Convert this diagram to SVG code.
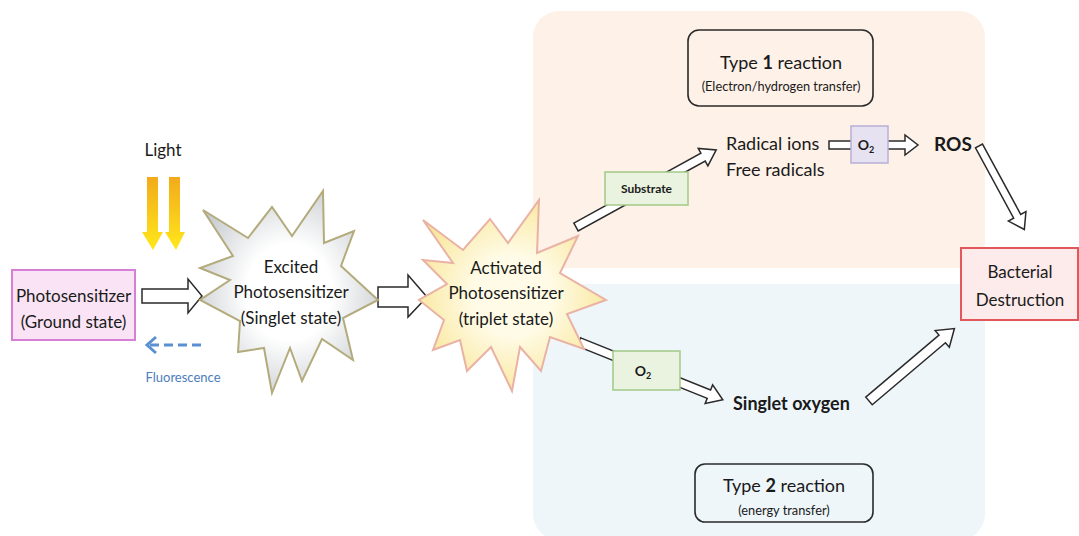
<svg xmlns="http://www.w3.org/2000/svg" width="1079" height="536" viewBox="0 0 1079 536">
  <style>
    text { font-family: Lato, "Liberation Sans", sans-serif; fill: #1a1a1a; }
    .lbl { font-size: 17px; text-anchor: middle; }
    .big { font-size: 18px; }
    .bold { font-weight: bold; }
    .small { font-size: 12.8px; text-anchor: middle; }
    .hollow { fill: #ffffff; stroke: #2a2a2a; stroke-width: 1.5; stroke-linejoin: miter; }
    .tag { stroke-width: 1.5; }
    .rbox { fill: none; stroke: #2a2a2a; stroke-width: 1.6; }
  </style>
  <defs>
    <linearGradient id="lightGrad" x1="0" y1="0" x2="0" y2="1">
      <stop offset="0" stop-color="#f3aa1c"/>
      <stop offset="1" stop-color="#ffe81a"/>
    </linearGradient>
    <radialGradient id="greyStar" cx="0.5" cy="0.5" r="0.6">
      <stop offset="0.4" stop-color="#ffffff"/>
      <stop offset="1" stop-color="#c4c8cc"/>
    </radialGradient>
    <radialGradient id="yellowStar" cx="0.5" cy="0.5" r="0.6">
      <stop offset="0.35" stop-color="#fffbe6"/>
      <stop offset="1" stop-color="#f8e38e"/>
    </radialGradient>
  </defs>

  <!-- reaction panels -->
  <g id="panel-type1">
    <rect x="533" y="11" width="452" height="257" rx="26" fill="#fdf1e8"/>
  </g>
  <g id="panel-type2">
    <rect x="533" y="284" width="452" height="256" rx="26" fill="#eef6fa"/>
  </g>

  <!-- connectors -->
  <g id="connectors">
    <!-- light -->
    <path d="M147,177 H158 V232 H163 L153,250 L142,232 H147 Z" fill="url(#lightGrad)"/>
    <path d="M169,177 H180 V232 H185 L176,250 L165,232 H169 Z" fill="url(#lightGrad)"/>
    <!-- ground state to excited -->
    <path class="hollow" d="M142,289 H188 V279 L202,296 L188,313 V303 H142 Z"/>
    <!-- fluorescence -->
    <line x1="201" y1="345" x2="150" y2="345" stroke="#5a8fd2" stroke-width="3" stroke-dasharray="9,5"/>
    <path d="M156,337 L147,345 L156,353" fill="none" stroke="#5a8fd2" stroke-width="3"/>
    <!-- excited to activated -->
    <path class="hollow" d="M378,287 H408 V275 L427,297 L408,317 V307 H378 Z"/>
    <!-- activated to radicals (substrate) -->
    <path class="hollow" transform="translate(576,227) rotate(-28.8)" d="M0,-4.5 H145 V-10 L160,0 L145,10 V4.5 H0 Z"/>
    <!-- radicals to O2 -->
    <path class="hollow" d="M852,141 H829 V149 H852"/>
    <!-- O2 to ROS -->
    <path class="hollow" d="M888,141 H905 V135 L918,145 L905,155 V149 H888"/>
    <!-- ROS to bacterial destruction -->
    <path class="hollow" transform="translate(979,146) rotate(61.5)" d="M0,-4 H80 V-10 L95,0 L80,10 V4 H0 Z"/>
    <!-- activated to singlet oxygen -->
    <path class="hollow" transform="translate(579,342) rotate(21.9)" d="M0,-4.5 H140 V-10 L155,0 L140,10 V4.5 H0 Z"/>
    <!-- singlet oxygen to bacterial destruction -->
    <path class="hollow" transform="translate(869,401) rotate(-40.3)" d="M0,-5 H96 V-11 L112,0 L96,11 V5 H0 Z"/>
  </g>

  <!-- nodes -->
  <g id="light-label">
    <text x="163" y="156" class="lbl" font-size="16">Light</text>
  </g>

  <g id="ground-state">
    <rect x="12" y="270" width="123" height="70" fill="#f9e3f5" stroke="#d57fd6" stroke-width="2"/>
    <text x="73.5" y="302" class="lbl" font-size="16">Photosensitizer</text>
    <text x="73.5" y="328" class="lbl" font-size="16">(Ground state)</text>
  </g>

  <g id="fluorescence">
    <text x="183" y="382" font-size="13" text-anchor="middle" style="fill:#4c7dbd">Fluorescence</text>
  </g>

  <g id="excited-state">
    <polygon points="203,210 248,238 272,207 292,236 323,191 324,243 354,231 341,266 378,300 343,318 353,360 322,339 302,381 290,348 272,393 264,348 238,352 240,321 200,300 230,280 200,268 233,256"
             fill="url(#greyStar)" stroke="#b3ab7c" stroke-width="2" stroke-linejoin="miter"/>
    <text x="291" y="273" class="lbl">Excited</text>
    <text x="291" y="298" class="lbl">Photosensitizer</text>
    <text x="291" y="324" class="lbl">(Singlet state)</text>
  </g>

  <g id="activated-state">
    <polygon points="423,220 463,250 490,219 508,243 539,200 537,253 578,236 560,273 606,300 567,314 584,349 550,337 541,371 520,347 512,391 491,347 467,371 460,340 433,350 444,320 419,300 447,284 423,260 453,263"
             fill="url(#yellowStar)" stroke="#eab2a4" stroke-width="2" stroke-linejoin="miter"/>
    <text x="506" y="274" class="lbl">Activated</text>
    <text x="506" y="299" class="lbl">Photosensitizer</text>
    <text x="506" y="325" class="lbl">(triplet state)</text>
  </g>

  <g id="type1-label">
    <rect class="rbox" x="688" y="30" width="185" height="76" rx="11"/>
    <text x="781" y="69" class="big" text-anchor="middle">Type <tspan class="bold">1</tspan> reaction</text>
    <text x="781" y="91" class="small">(Electron/hydrogen transfer)</text>
  </g>

  <g id="substrate">
    <rect class="tag" x="605" y="172" width="83" height="33" fill="#eaf3df" stroke="#a3c987"/>
    <text x="646.5" y="193" font-size="12" text-anchor="middle" class="bold">Substrate</text>
  </g>

  <g id="radicals">
    <text x="726" y="150" class="big">Radical ions</text>
    <text x="726" y="176" class="big">Free radicals</text>
  </g>

  <g id="o2-type1">
    <rect class="tag" x="851" y="126" width="37" height="37" fill="#e7e2f1" stroke="#b7afd6"/>
    <text x="866" y="150" font-size="14" text-anchor="middle" class="bold">O<tspan font-size="9" dy="3">2</tspan></text>
  </g>

  <g id="ros">
    <text x="934" y="151" font-size="19" class="bold">ROS</text>
  </g>

  <g id="bacterial-destruction">
    <rect x="961" y="248" width="117" height="72" fill="#fdeaea" stroke="#e2585a" stroke-width="2"/>
    <text x="1020" y="278" class="lbl" font-size="18">Bacterial</text>
    <text x="1020" y="306" class="lbl" font-size="18">Destruction</text>
  </g>

  <g id="o2-type2">
    <rect class="tag" x="613" y="351" width="67" height="39" fill="#eaf3df" stroke="#a3c987"/>
    <text x="643" y="376" font-size="14" text-anchor="middle" class="bold">O<tspan font-size="9" dy="3">2</tspan></text>
  </g>

  <g id="singlet-oxygen">
    <text x="733" y="410" class="big bold">Singlet oxygen</text>
  </g>

  <g id="type2-label">
    <rect class="rbox" x="695" y="464" width="178" height="58" rx="10"/>
    <text x="784" y="492" class="big" text-anchor="middle">Type <tspan class="bold">2</tspan> reaction</text>
    <text x="784" y="515" class="small">(energy transfer)</text>
  </g>
</svg>
